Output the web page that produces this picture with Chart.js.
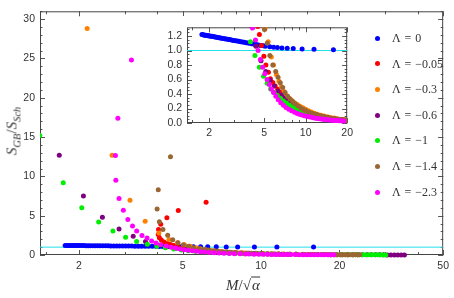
<!DOCTYPE html>
<html>
<head>
<meta charset="utf-8">
<script src="https://cdn.jsdelivr.net/npm/chart.js@4.4.1/dist/chart.umd.min.js"></script>
<style>
    html, body { margin: 0; padding: 0; background: #fff; }
    #wrap { position: relative; width: 454px; height: 298px; overflow: hidden; }
    #mainChart { position: absolute; left: 0; top: 0; }
    #insetBox { position: absolute; left: 160px; top: 16px; width: 197px; height: 126px; background: #fff; }
    .legend-item { position: absolute; left: 375px; height: 14px; font: 12px "Liberation Serif", serif; color: #333; white-space: nowrap; }
    .legend-item .dot { position: absolute; left: 0; top: 4.5px; width: 5px; height: 5px; border-radius: 50%; }
    .legend-item .txt { position: absolute; left: 17px; top: 0; line-height: 14px; word-spacing: 1px; }
    .axis-label { position: absolute; font: italic 15px "Liberation Serif", serif; color: #333; white-space: nowrap; }
    .axis-label sub { font-size: 10.5px; vertical-align: -4px; line-height: 0; }
    .root { border-top: 1px solid #333; padding-left: 1px; line-height: 14px; display: inline-block; }
</style>
</head>
<body>
<div id="wrap">
    <canvas id="mainChart" width="454" height="298"></canvas>
    <div id="insetBox"><canvas id="insetChart" width="197" height="126"></canvas></div>
    <div class="axis-label" id="yLabel" style="left:12px; top:131px; transform: translate(-50%, -50%) rotate(-90deg);">S<sub>GB</sub><span style="font-style:normal">/</span>S<sub>Sch</sub></div>
    <div class="axis-label" id="xLabel" style="left:243px; top:285px; transform: translate(-50%, -50%);">M<span style="font-style:normal">/√</span><span class="root">α</span></div>
</div>
<script>
// S_GB / S_Sch against M / sqrt(alpha), one series per Lambda

const lambdaLabels = ['Λ = 0', 'Λ = −0.05', 'Λ = −0.3', 'Λ = −0.6', 'Λ = −1', 'Λ = −1.4', 'Λ = −2.3'];
const seriesColors = ['#0000ff', '#ff0000', '#ff8000', '#800080', '#00ee00', '#9a6633', '#ff00ff'];

const blueX = [1.77, 1.80, 1.83, 1.86, 1.89, 1.92, 1.95, 1.98, 2.01, 2.05, 2.09, 2.13, 2.17, 2.21, 2.26, 2.31, 2.36, 2.41, 2.47, 2.53, 2.59, 2.65, 2.72, 2.79, 2.86, 2.94, 3.02, 3.10, 3.19, 3.28, 3.38, 3.48, 3.59, 3.70, 3.82, 3.94, 4.07, 4.20, 4.34, 4.48, 4.63, 4.78, 4.94, 5.10, 5.50, 5.86, 6.24, 6.73, 7.35, 8.13, 9.43, 11.5, 15.9];
const blueY = [1.220, 1.218, 1.215, 1.212, 1.210, 1.208, 1.205, 1.203, 1.201, 1.198, 1.195, 1.192, 1.189, 1.186, 1.183, 1.179, 1.176, 1.173, 1.169, 1.166, 1.162, 1.159, 1.155, 1.151, 1.147, 1.143, 1.139, 1.135, 1.131, 1.126, 1.122, 1.117, 1.113, 1.108, 1.103, 1.099, 1.094, 1.089, 1.084, 1.079, 1.074, 1.069, 1.064, 1.059, 1.052, 1.045, 1.040, 1.036, 1.031, 1.027, 1.022, 1.017, 1.012];

const redX = [6.15, 4.81, 4.35, 4.12, 4.04, 4.03, 4.07, 4.14, 4.24, 4.36, 4.49, 4.62, 4.78, 4.98, 5.15, 5.37, 5.55, 5.78, 6.02, 6.28, 6.55, 6.85, 7.2, 7.6, 8.0, 8.5, 9.0, 9.6, 10.2, 10.9, 11.7, 12.6, 13.6, 14.7, 15.9, 17.2];
const redY = [6.70, 5.65, 4.73, 3.90, 3.25, 2.60, 2.20, 1.92, 1.66, 1.46, 1.33, 1.22, 1.07, 0.92, 0.80, 0.70, 0.61, 0.557, 0.51, 0.467, 0.425, 0.385, 0.344, 0.305, 0.274, 0.24, 0.211, 0.183, 0.16, 0.139, 0.12, 0.103, 0.085, 0.072, 0.061, 0.051];

const orangeX = [2.15, 2.68, 3.14, 3.59, 4.05, 4.43, 4.78, 5.08, 5.35, 5.64, 5.85, 6.14, 6.41, 6.68, 6.98, 7.29, 7.6, 7.95, 8.3, 8.7, 9.1, 9.55, 10.0, 10.5, 11.0, 11.6, 12.2, 12.9, 13.6, 14.4, 15.2, 16.1, 17.0, 18.0, 19.0, 20.2, 21.4, 22.6];
const orangeY = [28.8, 12.7, 6.96, 4.28, 2.80, 1.98, 1.55, 1.30, 1.12, 0.91, 0.80, 0.67, 0.575, 0.50, 0.435, 0.375, 0.34, 0.31, 0.28, 0.255, 0.23, 0.21, 0.188, 0.168, 0.152, 0.136, 0.122, 0.108, 0.096, 0.085, 0.076, 0.068, 0.06, 0.053, 0.047, 0.042, 0.037, 0.033];

const purpleX = [1.68, 2.08, 2.46, 2.85, 3.23, 3.60, 3.98, 4.36, 4.75, 5.14, 5.53, 5.92, 6.3, 6.7, 7.1, 7.5, 7.9, 8.4, 8.9, 9.4, 10.0, 10.6, 11.3, 12.0, 12.8, 13.6, 14.5, 15.5, 16.5, 17.5, 18.5, 19.5, 20.5, 21.5, 22.5, 23.5, 24.5, 25.5, 26.5, 27.5, 28.5, 29.5, 30.5, 31.5, 32.5, 33.5, 34.5, 35.5];
const purpleY = [12.7, 7.5, 4.8, 3.3, 2.4, 1.73, 1.35, 1.06, 0.86, 0.71, 0.59, 0.51, 0.44, 0.385, 0.34, 0.30, 0.27, 0.235, 0.207, 0.184, 0.16, 0.143, 0.124, 0.11, 0.094, 0.083, 0.072, 0.063, 0.055, 0.048, 0.043, 0.038, 0.034, 0.031, 0.028, 0.026, 0.024, 0.022, 0.02, 0.019, 0.017, 0.016, 0.015, 0.014, 0.013, 0.012, 0.012, 0.011];

const greenX = [1.415, 1.74, 2.05, 2.38, 2.70, 3.02, 3.33, 3.66, 3.98, 4.29, 4.62, 4.95, 5.26, 5.57, 5.9, 6.22, 6.55, 6.9, 7.25, 7.6, 8.0, 8.4, 8.85, 9.3, 9.8, 10.3, 10.9, 11.5, 12.2, 12.9, 13.7, 14.5, 15.4, 16.3, 17.3, 18.3, 19.3, 20.3, 21.0, 21.7, 22.4, 23.1, 23.8, 24.5, 25.2, 25.9, 26.6, 27.3, 28.0, 28.7, 29.4, 30.1];
const greenY = [15.2, 9.2, 6.0, 4.2, 3.05, 2.27, 1.73, 1.36, 1.12, 0.93, 0.77, 0.645, 0.55, 0.47, 0.42, 0.38, 0.34, 0.305, 0.275, 0.25, 0.225, 0.203, 0.182, 0.163, 0.146, 0.131, 0.117, 0.104, 0.092, 0.082, 0.072, 0.064, 0.057, 0.05, 0.045, 0.04, 0.036, 0.032, 0.03, 0.028, 0.027, 0.025, 0.024, 0.022, 0.021, 0.02, 0.019, 0.018, 0.017, 0.016, 0.015, 0.014];

const brownX = [4.49, 4.03, 3.99, 4.07, 4.20, 4.38, 4.58, 4.8, 5.03, 5.27, 5.5, 5.78, 6.07, 6.31, 6.55, 6.82, 7.1, 7.4, 7.72, 8.05, 8.4, 8.8, 9.2, 9.65, 10.1, 10.6, 11.1, 11.7, 12.3, 13.0, 13.7, 14.5, 15.3, 16.2, 17.1, 17.6, 18.1, 18.6, 19.1, 19.6, 20.1, 20.6, 21.1, 21.6, 22.1, 22.6, 23.1, 23.5, 23.9];
const brownY = [12.5, 8.3, 5.85, 4.24, 3.25, 2.5, 1.95, 1.55, 1.29, 1.10, 0.93, 0.80, 0.71, 0.63, 0.555, 0.49, 0.42, 0.37, 0.33, 0.295, 0.265, 0.235, 0.21, 0.187, 0.168, 0.15, 0.135, 0.12, 0.107, 0.095, 0.085, 0.075, 0.067, 0.06, 0.053, 0.05, 0.047, 0.045, 0.043, 0.041, 0.039, 0.037, 0.035, 0.034, 0.032, 0.031, 0.03, 0.029, 0.028];

const magentaX = [3.18, 2.82, 2.76, 2.77, 2.85, 2.96, 3.08, 3.21, 3.33, 3.49, 3.65, 3.80, 3.95, 4.12, 4.33, 4.52, 4.70, 4.88, 5.06, 5.25, 5.45, 5.65, 5.85, 6.08, 6.33, 6.6, 6.9, 7.2, 7.55, 7.9, 8.3, 8.7, 9.0, 9.4, 9.8, 10.2, 10.6, 11.0, 11.4, 11.8, 12.2, 12.6, 13.0, 13.5, 14.0, 14.5, 15.0, 15.5, 16.0, 16.5, 17.0, 17.5, 18.0, 18.5, 19.0];
const magentaY = [24.8, 17.4, 12.65, 9.5, 7.2, 5.7, 4.5, 3.7, 3.05, 2.47, 2.15, 1.77, 1.52, 1.31, 1.145, 1.0, 0.875, 0.77, 0.68, 0.60, 0.53, 0.47, 0.42, 0.37, 0.32, 0.28, 0.245, 0.215, 0.19, 0.168, 0.148, 0.132, 0.121, 0.11, 0.1, 0.092, 0.085, 0.078, 0.072, 0.067, 0.062, 0.058, 0.054, 0.05, 0.047, 0.044, 0.041, 0.039, 0.037, 0.035, 0.033, 0.031, 0.03, 0.029, 0.028];

const seriesX = [blueX, redX, orangeX, purpleX, greenX, brownX, magentaX];
const seriesY = [blueY, redY, orangeY, purpleY, greenY, brownY, magentaY];

// reference level S_GB = S_Sch
const refLevel = 1;

// tick labels
const mainXTicks = [2, 5, 10, 20, 50];
const mainXMinor = [1.5, 3, 4, 6, 7, 8, 9, 15, 30, 40];
const mainYTicks = [0, 5, 10, 15, 20, 25, 30];
const insetXTicks = [2, 5, 10, 20];
const insetXMinor = [1.5, 3, 4, 6, 7, 8, 9, 15];
const insetYTicks = [0, 0.2, 0.4, 0.6, 0.8, 1.0, 1.2];

Chart.defaults.font.family = '"Liberation Sans", Arial, sans-serif';
Chart.defaults.color = '#333';

// Mathematica-like frame: box on all four sides with inward ticks
const frameTicks = {
    id: 'frameTicks',
    beforeDatasetsDraw(chart, args, opts) {
        const { ctx, chartArea: a, scales: { x, y } } = chart;
        ctx.save();
        ctx.strokeStyle = '#555';
        ctx.lineWidth = 1;
        ctx.beginPath();
        const xt = (v, len) => {
            const p = Math.round(x.getPixelForValue(v)) + 0.5;
            ctx.moveTo(p, a.bottom); ctx.lineTo(p, a.bottom - len);
            ctx.moveTo(p, a.top); ctx.lineTo(p, a.top + len);
        };
        const yt = (v, len) => {
            const p = Math.round(y.getPixelForValue(v)) + 0.5;
            ctx.moveTo(a.left, p); ctx.lineTo(a.left + len, p);
            ctx.moveTo(a.right, p); ctx.lineTo(a.right - len, p);
        };
        opts.xMajor.forEach(v => xt(v, 5));
        opts.xMinor.forEach(v => xt(v, 3));
        opts.yMajor.forEach(v => yt(v, 5));
        for (let v = y.min; v <= y.max + 1e-9; v += opts.yMinorStep) yt(v, 2.5);
        ctx.stroke();
        ctx.strokeStyle = '#444';
        ctx.strokeRect(a.left + 0.5, a.top + 0.5, a.right - a.left - 1, a.bottom - a.top - 1);
        ctx.restore();
    }
};

function buildDatasets(xMin, xMax, pointRadius) {
    const sets = [{
        data: [{ x: xMin, y: refLevel }, { x: xMax, y: refLevel }],
        showLine: true,
        borderColor: '#22e0ea',
        borderWidth: 1,
        pointRadius: 0,
        order: 10,
        clip: 0
    }];
    seriesX.forEach((xs, i) => {
        sets.push({
            label: lambdaLabels[i],
            data: xs.map((x, j) => ({ x: x, y: seriesY[i][j] })),
            backgroundColor: seriesColors[i],
            borderWidth: 0,
            pointRadius: pointRadius,
            order: 7 - i,
            clip: { left: 0, top: 0, right: 0, bottom: 3 }
        });
    });
    return sets;
}

function makeChart(canvasId, cfg) {
    const ctx = document.getElementById(canvasId);
    return new Chart(ctx, {
        type: 'scatter',
        data: { datasets: buildDatasets(cfg.xMin, cfg.xMax, 2.5) },
        options: {
            responsive: false,
            animation: false,
            devicePixelRatio: 1,
            layout: { padding: cfg.padding },
            plugins: {
                legend: { display: false },
                tooltip: { enabled: false },
                frameTicks: cfg.frame
            },
            scales: {
                x: {
                    type: 'logarithmic',
                    min: cfg.xMin,
                    max: cfg.xMax,
                    grid: { display: false, drawTicks: false },
                    border: { display: false },
                    afterBuildTicks: s => { s.ticks = cfg.xTicks.map(v => ({ value: v })); },
                    afterFit: s => { s.height = cfg.xHeight; },
                    ticks: {
                        autoSkip: false,
                        maxRotation: 0,
                        padding: cfg.xPad,
                        font: { size: cfg.fontSize },
                        callback: v => String(v)
                    }
                },
                y: {
                    min: cfg.yMin,
                    max: cfg.yMax,
                    grid: { display: false, drawTicks: false },
                    border: { display: false },
                    afterBuildTicks: s => { s.ticks = cfg.yTicks.map(v => ({ value: v })); },
                    afterFit: s => { s.width = cfg.yWidth; },
                    ticks: {
                        padding: cfg.yPad,
                        font: { size: cfg.fontSize },
                        callback: cfg.yFormat
                    }
                }
            }
        },
        plugins: [frameTicks]
    });
}

document.addEventListener('DOMContentLoaded', function() {
    makeChart('mainChart', {
        xMin: 1.417, xMax: 50, yMin: 0, yMax: 31,
        xTicks: mainXTicks, yTicks: mainYTicks,
        padding: { top: 4, right: 7, left: 0, bottom: 0 },
        xHeight: 43, yWidth: 40, xPad: 5, yPad: 5, fontSize: 10.5,
        yFormat: v => String(v),
        frame: { xMajor: mainXTicks, xMinor: mainXMinor, yMajor: mainYTicks, yMinorStep: 1 }
    });

    makeChart('insetChart', {
        xMin: 1.38, xMax: 20, yMin: 0, yMax: 1.32,
        xTicks: insetXTicks, yTicks: insetYTicks,
        padding: { top: 3, right: 4, left: 0, bottom: 0 },
        xHeight: 19, yWidth: 27, xPad: 4, yPad: 5, fontSize: 10.5,
        yFormat: v => v.toFixed(1),
        frame: { xMajor: insetXTicks, xMinor: insetXMinor, yMajor: insetYTicks, yMinorStep: 0.05 }
    });

    // legend at the right, inside the frame
    const wrap = document.getElementById('wrap');
    const rowTop = [31, 56.5, 82, 108, 133, 159, 185];
    lambdaLabels.forEach((label, i) => {
        const item = document.createElement('div');
        item.className = 'legend-item';
        item.style.top = rowTop[i] + 'px';
        item.innerHTML = `<span class="dot" style="background:${seriesColors[i]}"></span><span class="txt">${label}</span>`;
        wrap.appendChild(item);
    });
});
</script>
</body>
</html>
